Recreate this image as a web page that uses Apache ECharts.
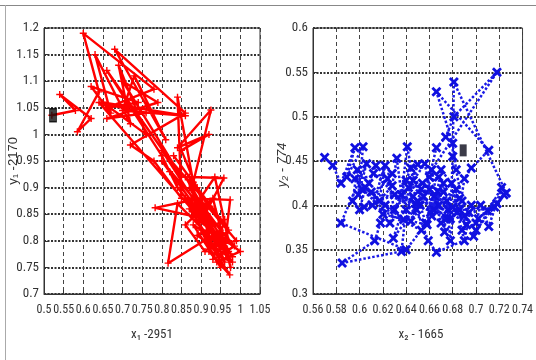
<!DOCTYPE html>
<html><head><meta charset="utf-8">
<script src="https://cdn.jsdelivr.net/npm/echarts@6/dist/echarts.min.js"></script>
<style>html,body{margin:0;padding:0;background:#fff}#c{width:536px;height:360px}</style>
</head><body><div id="c"></div>
<script>
// Left panel trajectory (x1, y1)
const leftX = [0.52,0.58,0.54,0.62,0.585,0.64,0.60,0.78,0.66,0.74,0.62,0.67,0.63,0.72,0.69,0.76,0.65,0.86,0.70,0.73,0.81,0.68,0.86,0.72,0.78,0.85,0.84,0.88,0.925,0.84,0.92,0.85,0.90,0.783,0.92,0.87,0.95,0.816,0.84,0.96,0.88,0.935,0.97,0.89,1.00,0.94,0.90,0.973,0.92,0.98,0.86,0.974,0.96,0.88,0.95,0.91,0.99,0.93,0.87,0.958,0.91,0.97,0.89,0.96,0.93,0.985,
  0.80,0.95,0.82,0.97,0.64,0.76,0.66,0.79,0.70,0.85,0.66,0.80,0.84,0.98,0.86,0.95,0.83,0.93,0.80,0.94,0.87,0.96,0.89,0.97,0.91,0.86,0.93,0.975];
const leftY = [1.036,1.045,1.075,1.03,1.005,1.08,1.19,1.085,1.05,1.06,1.09,1.04,1.15,1.02,1.13,1.00,1.06,1.035,1.045,1.11,0.99,1.16,1.04,0.98,0.95,0.88,1.07,0.91,1.046,0.975,1.00,0.97,0.88,0.862,0.84,0.90,0.82,0.758,0.87,0.78,0.86,0.92,0.80,0.84,0.78,0.76,0.82,0.736,0.78,0.76,0.88,0.877,0.79,0.83,0.75,0.87,0.80,0.79,0.92,0.918,0.85,0.77,0.81,0.84,0.765,0.79,
  0.95,0.80,0.93,0.78,1.06,1.04,1.03,1.06,1.10,0.92,1.12,0.96,0.90,0.77,0.92,0.84,0.96,0.86,0.97,0.81,0.86,0.76,0.90,0.82,0.78,0.83,0.88,0.75];
// Right panel trajectory (x2, y2)
const rightX = [0.570,0.577,0.584,0.596,0.589,0.603,0.599,0.606,0.584,0.640,0.653,0.611,0.622,0.617,0.628,0.632,0.636,0.641,0.646,0.650,0.629,0.655,0.660,0.666,0.674,0.681,0.718,0.662,0.668,0.672,0.678,0.680,0.681,0.726,0.716,0.694,0.688,0.700,0.704,0.711,0.722,0.698,0.666,0.659,0.649,0.644,0.653,0.661,0.667,0.673,0.675,0.678,0.683,0.686,0.690,0.696,0.711,0.666,0.680,0.683,0.688,0.692,0.676,0.670,0.664,0.657,0.652,0.646,0.640,0.636,0.585,0.613,0.618,0.622,0.605,0.600,0.594,0.598,0.608,0.614,0.624,0.630,0.642,0.656,0.664,0.670,0.679,0.684,0.690,0.696,0.702,0.710,0.718,0.724,
  0.700,0.660,0.690,0.650,0.680,0.640,0.675,0.630,0.668,0.620,0.658,0.612,0.648,0.602,0.638,0.596,0.628,0.604,0.654,0.672,0.686,0.662,0.644,0.626,0.610];
const rightY = [0.454,0.445,0.425,0.465,0.432,0.466,0.412,0.447,0.380,0.350,0.372,0.400,0.445,0.405,0.422,0.453,0.412,0.466,0.428,0.446,0.363,0.410,0.432,0.465,0.477,0.500,0.550,0.440,0.400,0.425,0.385,0.455,0.539,0.414,0.398,0.392,0.372,0.380,0.400,0.376,0.420,0.365,0.347,0.360,0.395,0.382,0.418,0.392,0.416,0.370,0.405,0.360,0.418,0.395,0.430,0.442,0.462,0.528,0.470,0.440,0.405,0.378,0.395,0.380,0.410,0.380,0.400,0.410,0.395,0.348,0.335,0.360,0.380,0.400,0.420,0.395,0.405,0.440,0.425,0.445,0.430,0.395,0.420,0.447,0.395,0.440,0.425,0.392,0.360,0.400,0.385,0.394,0.402,0.412,
  0.372,0.418,0.388,0.405,0.398,0.428,0.385,0.412,0.432,0.390,0.378,0.436,0.402,0.418,0.384,0.430,0.436,0.398,0.425,0.415,0.408,0.388,0.442,0.380,0.415];
// Black square markers
const leftMarker = [0.523, 1.036];
const rightMarker = [0.689, 0.462];
// Axis tick labels
const leftXTicks = ['0.5','0.55','0.6','0.65','0.7','0.75','0.8','0.85','0.9','0.95','1','1.05'];
const leftYTicks = ['0.7','0.75','0.8','0.85','0.9','0.95','1','1.05','1.1','1.15','1.2'];
const rightXTicks = ['0.56','0.58','0.6','0.62','0.64','0.66','0.68','0.7','0.72','0.74'];
const rightYTicks = ['0.3','0.35','0.4','0.45','0.5','0.55','0.6'];
// Axis titles
const leftXTitle = 'x\u2081 -2951';
const leftYTitle = 'y\u2081 -2170';
const rightXTitle = 'x\u2082 - 1665';
const rightYTitle = 'y\u2082 - 774';

const pairs = (xs, ys) => xs.map((x, i) => [x, ys[i]]);
const FONT = '"Liberation Sans Narrow","Roboto Condensed","Liberation Sans",sans-serif';
const plusSym = 'path://M4,0 H6 V4 H10 V6 H6 V10 H4 V6 H0 V4 H4 Z';
const xSym = 'path://M0,2 L2,0 L5,3 L8,0 L10,2 L7,5 L10,8 L8,10 L5,7 L2,10 L0,8 L3,5 Z';

function fmt(ticks, min, step) {
  return v => { const i = Math.round((v - min) / step); return ticks[i] !== undefined ? ticks[i] : ''; };
}
function xAx(idx, min, max, step, ticks) {
  return {
    type: 'value', gridIndex: idx, min: min, max: max, interval: step,
    axisLine: { show: true, onZero: false, lineStyle: { color: '#333', width: 1 } },
    axisTick: { show: true, inside: true, length: 4, lineStyle: { color: '#333' } },
    axisLabel: { color: '#333', fontFamily: FONT, fontSize: 12, margin: 10, formatter: fmt(ticks, min, step), showMaxLabel: true, showMinLabel: true, hideOverlap: false },
    splitLine: { show: true, lineStyle: { color: '#444', type: [4, 3], width: 1 } }
  };
}
function yAx(idx, min, max, step, ticks) {
  return {
    type: 'value', gridIndex: idx, min: min, max: max, interval: step,
    axisLine: { show: true, onZero: false, lineStyle: { color: '#333', width: 1 } },
    axisTick: { show: true, inside: true, length: 4, lineStyle: { color: '#333' } },
    axisLabel: { color: '#333', fontFamily: FONT, fontSize: 13, margin: 5, formatter: fmt(ticks, min, step) },
    splitLine: { show: true, lineStyle: { color: '#333', type: [2, 1.5], width: 2 } }
  };
}

const chart = echarts.init(document.getElementById('c'), null, { renderer: 'canvas' });
chart.setOption({
  animation: false,
  backgroundColor: '#fff',
  grid: [
    { left: 44, top: 28, width: 216, height: 266, show: true, borderColor: '#333', borderWidth: 1, backgroundColor: 'transparent' },
    { left: 313, top: 28, width: 217, height: 266, show: true, borderColor: '#333', borderWidth: 1, backgroundColor: 'transparent' }
  ],
  xAxis: [xAx(0, 0.5, 1.05, 0.05, leftXTicks), xAx(1, 0.56, 0.74, 0.02, rightXTicks)],
  yAxis: [yAx(0, 0.7, 1.2, 0.05, leftYTicks), yAx(1, 0.3, 0.6, 0.05, rightYTicks)],
  series: [
    { type: 'line', xAxisIndex: 0, yAxisIndex: 0, data: pairs(leftX, leftY), smooth: false,
      lineStyle: { color: '#ff0000', width: 2.4 }, symbol: plusSym, symbolSize: 7,
      itemStyle: { color: '#ff0000' }, showAllSymbol: true, z: 3 },
    { type: 'line', xAxisIndex: 1, yAxisIndex: 1, data: pairs(rightX, rightY), smooth: false,
      lineStyle: { color: '#1a1ae6', width: 2.5, type: [2.5, 2] }, symbol: xSym, symbolSize: 10,
      itemStyle: { color: '#1010e0' }, showAllSymbol: true, z: 3 },
    { type: 'scatter', xAxisIndex: 0, yAxisIndex: 0, data: [leftMarker], symbol: 'rect', symbolSize: [7, 13],
      itemStyle: { color: '#111', borderColor: '#000' }, z: 5 },
    { type: 'scatter', xAxisIndex: 1, yAxisIndex: 1, data: [rightMarker], symbol: 'rect', symbolSize: [7, 12],
      itemStyle: { color: '#0a0a1a' }, z: 5 }
  ],
  graphic: [
    { type: 'line', shape: { x1: 0, y1: 5.5, x2: 536, y2: 5.5 }, style: { stroke: '#888', lineWidth: 1 } },
    { type: 'line', shape: { x1: 5.5, y1: 5, x2: 5.5, y2: 360 }, style: { stroke: '#aaa', lineWidth: 1 } },
    { type: 'text', x: 152, y: 335, style: { text: leftXTitle, fontFamily: FONT, fontSize: 13, fill: '#333', align: 'center', verticalAlign: 'middle' } },
    { type: 'text', x: 421, y: 335, style: { text: rightXTitle, fontFamily: FONT, fontSize: 13, fill: '#333', align: 'center', verticalAlign: 'middle' } },
    { type: 'text', x: 13, y: 161, rotation: Math.PI / 2, style: { text: leftYTitle, fontFamily: '"Liberation Sans",sans-serif', fontSize: 13, fill: '#333', align: 'center', verticalAlign: 'middle' } },
    { type: 'text', x: 282, y: 165, rotation: Math.PI / 2, style: { text: rightYTitle, fontFamily: '"Liberation Sans",sans-serif', fontStyle: 'italic', fontSize: 13, fill: '#333', align: 'center', verticalAlign: 'middle' } }
  ]
});
</script></body></html>
